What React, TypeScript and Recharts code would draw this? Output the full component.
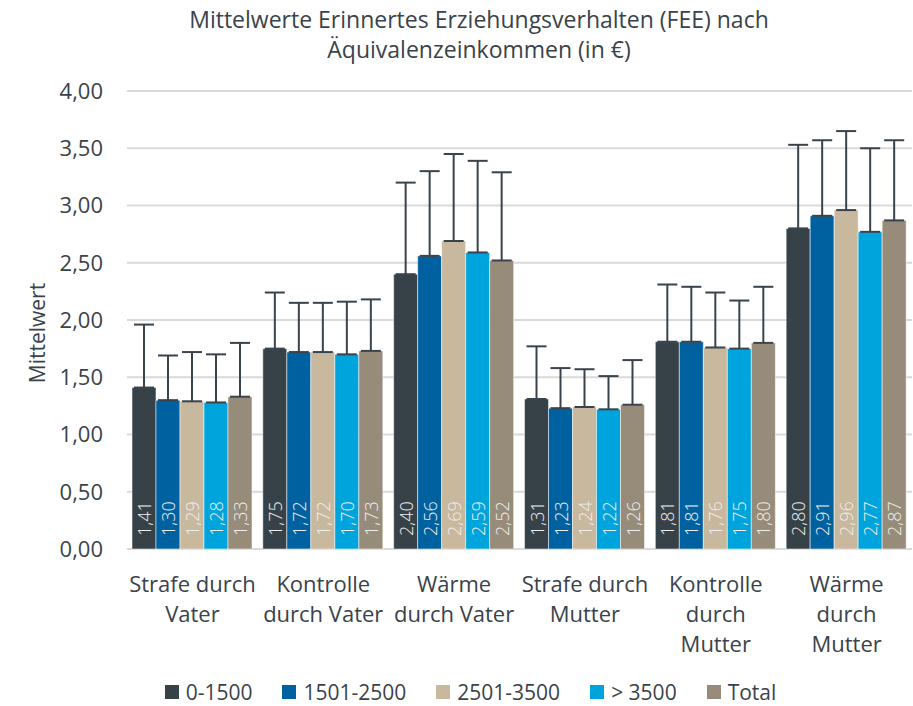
import { BarChart, Bar, XAxis, YAxis, CartesianGrid, ErrorBar, LabelList } from 'recharts';

const categories = ['Strafe durch Vater', 'Kontrolle durch Vater', 'Wärme durch Vater', 'Strafe durch Mutter', 'Kontrolle durch Mutter', 'Wärme durch Mutter'];
const categoryLines = [
  ['Strafe durch', 'Vater'],
  ['Kontrolle', 'durch Vater'],
  ['Wärme', 'durch Vater'],
  ['Strafe durch', 'Mutter'],
  ['Kontrolle', 'durch', 'Mutter'],
  ['Wärme', 'durch', 'Mutter'],
];

const seriesNames = ['0-1500', '1501-2500', '2501-3500', '> 3500', 'Total'];
const seriesColors = ['#374148', '#0061a0', '#c8b89e', '#00a4dc', '#978b7a'];

const means0 = [1.41, 1.75, 2.40, 1.31, 1.81, 2.80];
const means1 = [1.30, 1.72, 2.56, 1.23, 1.81, 2.91];
const means2 = [1.29, 1.72, 2.69, 1.24, 1.76, 2.96];
const means3 = [1.28, 1.70, 2.59, 1.22, 1.75, 2.77];
const meansT = [1.33, 1.73, 2.52, 1.26, 1.80, 2.87];

// upper error (standard deviation) per series
const err0 = [0.55, 0.49, 0.80, 0.46, 0.50, 0.73];
const err1 = [0.39, 0.43, 0.74, 0.35, 0.48, 0.66];
const err2 = [0.43, 0.43, 0.76, 0.33, 0.48, 0.69];
const err3 = [0.42, 0.46, 0.80, 0.29, 0.42, 0.73];
const errT = [0.47, 0.45, 0.77, 0.39, 0.49, 0.70];

const yTicks = [0, 0.5, 1, 1.5, 2, 2.5, 3, 3.5, 4];

const allMeans = [means0, means1, means2, means3, meansT];
const allErrs = [err0, err1, err2, err3, errT];

const data = categories.map((name, i) => {
  const row: any = { name, idx: i };
  allMeans.forEach((m, s) => {
    row['m' + s] = m[i];
    row['e' + s] = [0, allErrs[s][i]];
  });
  return row;
});

const FONT = '"Open Sans", sans-serif';
const TEXT = '#3a434b';

const fmt = (v: number) => v.toFixed(2).replace('.', ',');

const CategoryTick = (props: any) => {
  const { x, y, payload } = props;
  const lines = categoryLines[payload.index] || [payload.value];
  return (
    <text x={x} y={y} textAnchor="middle" fill={TEXT} fontSize={22} fontFamily={FONT}>
      {lines.map((l, i) => (
        <tspan key={i} x={x} dy={i === 0 ? 35 : 30}>{l}</tspan>
      ))}
    </text>
  );
};

const ValueLabel = (props: any) => {
  const { x, y, width, height, value } = props;
  const cx = x + width / 2;
  const by = y + height - 13;
  return (
    <text
      x={cx}
      y={by}
      transform={`rotate(-90, ${cx}, ${by})`}
      textAnchor="start"
      dominantBaseline="central"
      fill="#eeeeee"
      fontSize={18}
      fontFamily={FONT}
      fontWeight={300}
    >
      {fmt(value)}
    </text>
  );
};

export default function App() {
  return (
    <div style={{ position: 'absolute', left: 0, top: 0, width: 913, height: 706, background: '#fff', fontFamily: FONT }}>
      <div style={{ position: 'absolute', left: 0, top: 4, width: 913, textAlign: 'center', color: TEXT, fontSize: 23, lineHeight: '30px' }}>
        <div style={{ paddingLeft: 45 }}>Mittelwerte Erinnertes Erziehungsverhalten (FEE) nach</div>
        <div style={{ paddingLeft: 45 }}>Äquivalenzeinkommen (in €)</div>
      </div>
      <div
        style={{
          position: 'absolute',
          left: 37,
          top: 333,
          transform: 'translate(-50%, -50%) rotate(-90deg)',
          color: TEXT,
          fontSize: 21,
          whiteSpace: 'nowrap',
        }}
      >
        Mittelwert
      </div>
      <BarChart
        width={913}
        height={706}
        data={data}
        margin={{ top: 91, right: 1, bottom: 0, left: 0 }}
        barCategoryGap={5}
        barGap={0}
        style={{ position: 'absolute', left: 0, top: 0 }}
      >
        <CartesianGrid vertical={false} stroke="#d9d9d9" strokeWidth={2} />
        <XAxis
          dataKey="name"
          axisLine={false}
          tickLine={false}
          interval={0}
          tick={<CategoryTick />}
          height={157}
        />
        <YAxis
          width={127}
          domain={[0, 4]}
          ticks={yTicks}
          axisLine={false}
          tickLine={false}
          tickSize={0}
          tickMargin={24}
          tickFormatter={fmt}
          tick={{ fill: TEXT, fontSize: 22, fontFamily: FONT }}
        />
        {seriesNames.map((s, i) => (
          <Bar
            key={s}
            dataKey={'m' + i}
            name={s}
            fill={seriesColors[i]}
            stroke="#ffffff"
            strokeOpacity={0.5}
            strokeWidth={1}
            isAnimationActive={false}
          >
            <ErrorBar dataKey={'e' + i} direction="y" width={10} stroke="#3a434b" strokeWidth={2} isAnimationActive={false} />
            <LabelList dataKey={'m' + i} content={<ValueLabel />} />
          </Bar>
        ))}
      </BarChart>
      <div
        style={{
          position: 'absolute',
          left: 0,
          top: 677,
          width: 913,
          display: 'flex',
          justifyContent: 'center',
          paddingLeft: 28,
          boxSizing: 'border-box',
          color: TEXT,
          fontSize: 21,
          lineHeight: '30px',
        }}
      >
        {seriesNames.map((s, i) => (
          <div key={s} style={{ display: 'flex', alignItems: 'center', marginRight: i < seriesNames.length - 1 ? 30 : 0 }}>
            <span style={{ display: 'inline-block', width: 14, height: 14, background: seriesColors[i], marginRight: 7 }} />
            <span>{s}</span>
          </div>
        ))}
      </div>
    </div>
  );
}
